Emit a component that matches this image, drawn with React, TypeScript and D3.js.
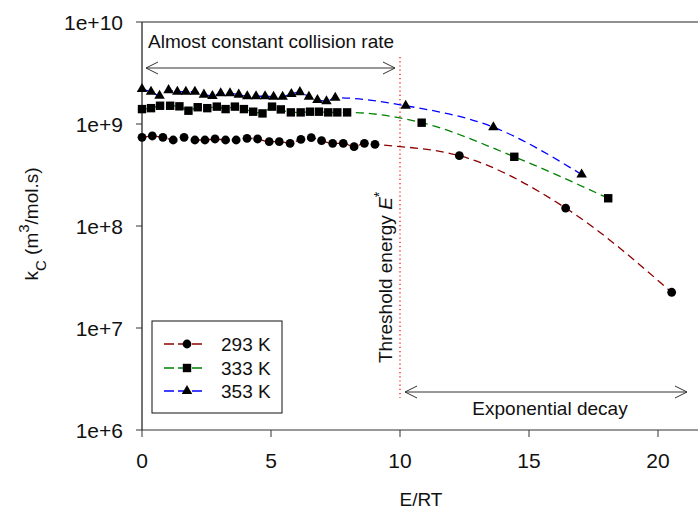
import React from "react";
import * as d3 from "d3";

const E293 = [0, 0.40, 0.81, 1.21, 1.63, 2.05, 2.44, 2.83, 3.24, 3.65, 4.07, 4.48, 4.93, 5.32, 5.74, 6.16, 6.56, 6.96, 7.39, 7.80, 8.22, 8.62, 9.03, 12.30, 16.42, 20.53];
const K293 = [7.41e8, 7.63e8, 7.41e8, 6.97e8, 7.41e8, 6.97e8, 6.97e8, 7.13e8, 6.97e8, 6.97e8, 7.24e8, 7.13e8, 6.71e8, 6.71e8, 6.47e8, 7.08e8, 7.34e8, 6.86e8, 6.47e8, 6.47e8, 5.99e8, 6.47e8, 6.32e8, 4.89e8, 1.50e8, 2.24e7];

const E333 = [0, 0.35, 0.70, 1.09, 1.45, 1.80, 2.16, 2.53, 2.90, 3.24, 3.60, 3.95, 4.31, 4.67, 5.04, 5.38, 5.77, 6.15, 6.51, 6.86, 7.22, 7.57, 7.95, 10.84, 14.43, 18.07];
const K333 = [1.40e9, 1.43e9, 1.51e9, 1.51e9, 1.49e9, 1.35e9, 1.46e9, 1.43e9, 1.48e9, 1.40e9, 1.48e9, 1.40e9, 1.32e9, 1.27e9, 1.48e9, 1.39e9, 1.30e9, 1.30e9, 1.32e9, 1.32e9, 1.30e9, 1.30e9, 1.30e9, 1.03e9, 4.77e8, 1.87e8];

const E353 = [0, 0.35, 0.68, 1.03, 1.37, 1.70, 2.05, 2.40, 2.73, 3.05, 3.41, 3.75, 4.08, 4.42, 4.77, 5.10, 5.45, 5.79, 6.12, 6.47, 6.80, 7.15, 7.49, 10.22, 13.62, 17.04];
const K353 = [2.20e9, 2.07e9, 1.89e9, 2.15e9, 2.07e9, 2.07e9, 2.07e9, 1.94e9, 1.88e9, 2.00e9, 2.00e9, 1.94e9, 1.87e9, 1.87e9, 1.87e9, 1.85e9, 1.85e9, 1.97e9, 2.05e9, 1.85e9, 1.72e9, 1.67e9, 1.81e9, 1.51e9, 9.3e8, 3.2e8];

const SERIES_NAMES = ["293 K", "333 K", "353 K"];
const SERIES_COLORS = ["#8b0000", "#008000", "#0000ff"];
const SERIES_SHAPES = ["circle", "square", "triangle"];
const X_TICKS = [0, 5, 10, 15, 20];
const Y_TICKS = [1e6, 1e7, 1e8, 1e9, 1e10];
const Y_TICK_LABELS = ["1e+6", "1e+7", "1e+8", "1e+9", "1e+10"];
const THRESHOLD = 10;

const FONT = "'Liberation Sans', Arial, Helvetica, sans-serif";

function Marker({ shape, x, y }: { shape: string; x: number; y: number }) {
  if (shape === "circle") return <circle cx={x} cy={y} r={4.4} fill="#000" />;
  if (shape === "square") return <rect x={x - 4.2} y={y - 4.2} width={8.4} height={8.4} fill="#000" />;
  const p = d3.symbol().type(d3.symbolTriangle).size(48)();
  return <path d={p || ""} transform={`translate(${x},${y})`} fill="#000" />;
}

function Arrow({ x1, x2, y }: { x1: number; x2: number; y: number }) {
  const L = 12, H = 6;
  return (
    <g stroke="#333" strokeWidth={1} fill="none">
      <line x1={x1} x2={x2} y1={y} y2={y} />
      <polyline points={`${x1 + L},${y - H} ${x1},${y} ${x1 + L},${y + H}`} />
      <polyline points={`${x2 - L},${y - H} ${x2},${y} ${x2 - L},${y + H}`} />
    </g>
  );
}

export default function App() {
  const x = d3.scaleLinear().domain([0, 20]).range([142, 658]);
  const y = d3.scaleLog().domain([1e6, 1e10]).range([430, 22]);
  const xRight = x(21.6);

  const seriesData = [
    E293.map((e, i) => [e, K293[i]] as [number, number]),
    E333.map((e, i) => [e, K333[i]] as [number, number]),
    E353.map((e, i) => [e, K353[i]] as [number, number]),
  ];
  const line = d3
    .line<[number, number]>()
    .x((d) => x(d[0]))
    .y((d) => y(d[1]))
    .curve(d3.curveMonotoneX);

  const legendX = 152, legendY = 321;
  const legendRows = [344, 368, 391];

  return (
    <svg
      width={698}
      height={510}
      style={{ position: "absolute", left: 0, top: 0, background: "#fff" }}
      fontFamily={FONT}
    >
      <rect x={0} y={0} width={698} height={510} fill="#fff" />

      {/* frame / axes */}
      <line x1={142} x2={xRight} y1={22} y2={22} stroke="#222" strokeWidth={1} />
      <line x1={142} x2={xRight} y1={430} y2={430} stroke="#333" strokeWidth={1.2} />
      <line x1={142} x2={142} y1={22} y2={430} stroke="#444" strokeWidth={1.5} />

      {Y_TICKS.map((t, i) => (
        <g key={"yt" + i}>
          <line x1={136} x2={142} y1={y(t)} y2={y(t)} stroke="#333" strokeWidth={1} />
          <text x={123} y={y(t)} dy="0.36em" textAnchor="end" fontSize={21} fill="#111">
            {Y_TICK_LABELS[i]}
          </text>
        </g>
      ))}
      {X_TICKS.map((t, i) => (
        <g key={"xt" + i}>
          <line x1={x(t)} x2={x(t)} y1={430} y2={437} stroke="#333" strokeWidth={1} />
          <text x={x(t)} y={468} textAnchor="middle" fontSize={21} fill="#111">
            {t}
          </text>
        </g>
      ))}

      {/* axis titles */}
      <text x={421} y={506} textAnchor="middle" fontSize={19} fill="#111">
        E/RT
      </text>
      <text transform="translate(38,224) rotate(-90)" textAnchor="middle" fontSize={19} fill="#111">
        <tspan>k</tspan>
        <tspan fontSize={15} dy={8}>C</tspan>
        <tspan dy={-8}> (m</tspan>
        <tspan fontSize={15} dy={-9}>3</tspan>
        <tspan dy={9}>/mol.s)</tspan>
      </text>

      {/* threshold line */}
      <line
        x1={x(THRESHOLD)}
        x2={x(THRESHOLD)}
        y1={57}
        y2={398}
        stroke="#ff0000"
        strokeWidth={1.2}
        strokeDasharray="1.2,3"
      />
      <text transform="translate(392,363) rotate(-90)" fontSize={19} fill="#111">
        <tspan>Threshold energy </tspan>
        <tspan fontStyle="italic">E</tspan>
        <tspan fontSize={14} dy={-8}>*</tspan>
      </text>

      {/* annotations */}
      <text x={148} y={48} fontSize={19} fill="#111">
        Almost constant collision rate
      </text>
      <Arrow x1={146} x2={395} y={68} />
      <Arrow x1={405} x2={687} y={392} />
      <text x={550} y={415} textAnchor="middle" fontSize={19} fill="#111">
        Exponential decay
      </text>

      {/* series */}
      {seriesData.map((data, si) => (
        <path
          key={"l" + si}
          d={line(data) || ""}
          fill="none"
          stroke={SERIES_COLORS[si]}
          strokeWidth={1.3}
          strokeDasharray="8,5"
        />
      ))}
      {seriesData.map((data, si) => (
        <g key={"m" + si}>
          {data.map((d, i) => (
            <Marker key={i} shape={SERIES_SHAPES[si]} x={x(d[0])} y={y(d[1])} />
          ))}
        </g>
      ))}

      {/* legend */}
      <rect x={legendX} y={legendY} width={130} height={92} fill="#fff" stroke="#111" strokeWidth={1} />
      {SERIES_NAMES.map((name, i) => (
        <g key={"lg" + i}>
          <line
            x1={164}
            x2={206}
            y1={legendRows[i]}
            y2={legendRows[i]}
            stroke={SERIES_COLORS[i]}
            strokeWidth={1.3}
            strokeDasharray="10,4"
          />
          <Marker shape={SERIES_SHAPES[i]} x={187} y={legendRows[i]} />
          <text x={221} y={legendRows[i] + 7} fontSize={19} fill="#111">
            {name}
          </text>
        </g>
      ))}
    </svg>
  );
}
